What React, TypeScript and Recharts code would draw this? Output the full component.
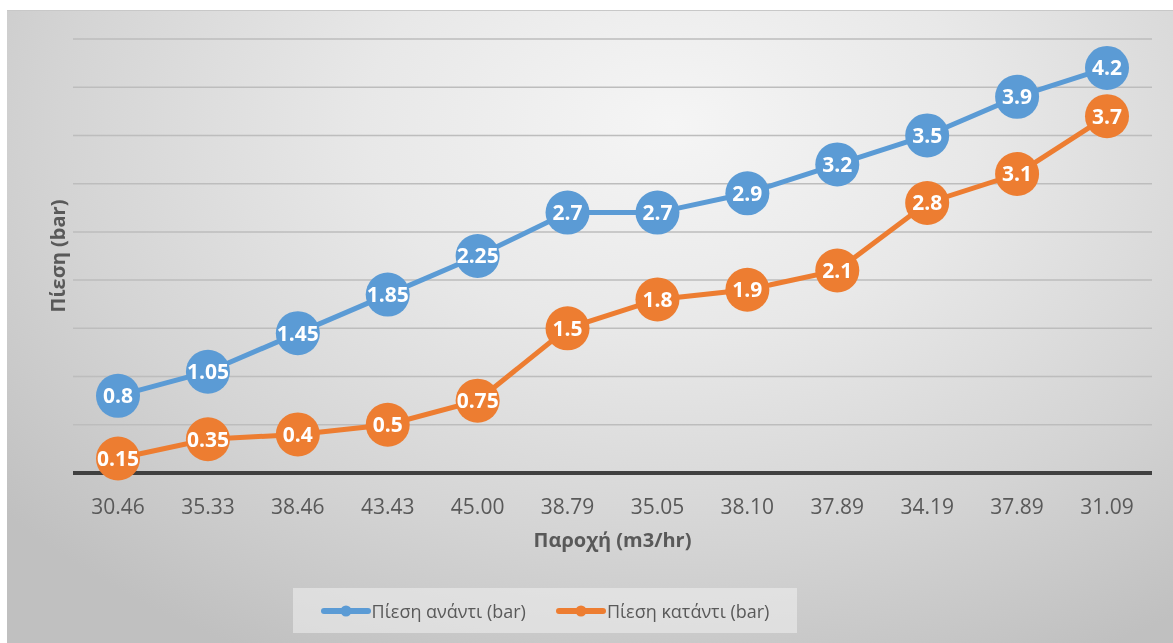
import React from 'react';
import { LineChart, Line, XAxis, YAxis, CartesianGrid, LabelList, Legend } from 'recharts';

const categories = ['30.46', '35.33', '38.46', '43.43', '45.00', '38.79', '35.05', '38.10', '37.89', '34.19', '37.89', '31.09'];
const upstream = [0.8, 1.05, 1.45, 1.85, 2.25, 2.7, 2.7, 2.9, 3.2, 3.5, 3.9, 4.2];
const downstream = [0.15, 0.35, 0.4, 0.5, 0.75, 1.5, 1.8, 1.9, 2.1, 2.8, 3.1, 3.7];
const yTicks = [0, 0.5, 1, 1.5, 2, 2.5, 3, 3.5, 4, 4.5];

const seriesNames = ['Πίεση ανάντι (bar)', 'Πίεση κατάντι (bar)'];
const colors = ['#5B9BD5', '#ED7D31'];

const data = categories.map((c, i) => ({ idx: i, cat: c, up: upstream[i], down: downstream[i] }));

const FONT = '"Open Sans", "Noto Sans", sans-serif';

const W = 1166;
const H = 633;

const LegendContent = () => (
  <div
    style={{
      width: 504,
      height: 45,
      background: 'rgba(240,240,240,0.55)',
      display: 'flex',
      alignItems: 'center',
      justifyContent: 'center',
      fontFamily: FONT,
      fontSize: 18,
      color: '#595959',
      gap: 30,
    }}
  >
    {seriesNames.map((n, i) => (
      <div key={n} style={{ display: 'flex', alignItems: 'center' }}>
        <svg width={50} height={14} style={{ marginRight: 1 }}>
          <line x1={3} y1={7} x2={47} y2={7} stroke={colors[i]} strokeWidth={6} strokeLinecap="round" />
          <circle cx={25} cy={7} r={5.5} fill={colors[i]} />
        </svg>
        <span>{n}</span>
      </div>
    ))}
  </div>
);

const YLabel = (props: any) => {
  const vb = props.viewBox || {};
  const cx = 50;
  const cy = vb.y + vb.height / 2;
  return (
    <text
      x={cx}
      y={cy}
      transform={`rotate(-90, ${cx}, ${cy})`}
      textAnchor="middle"
      dominantBaseline="central"
      fontFamily={FONT}
      fontSize={20}
      fontWeight={700}
      fill="#595959"
    >
      Πίεση (bar)
    </text>
  );
};

const NoTick = () => <g />;

export default function App() {
  return (
    <div
      style={{
        position: 'fixed',
        left: 7,
        top: 10,
        width: W,
        height: H,
        background:
          'radial-gradient(ellipse 75% 95% at 57% 18%, #f5f5f5 0%, #e8e8e8 35%, #d4d4d4 70%, #c0c0c0 100%)',
        borderTop: '1px solid #c8c8c8',
        boxSizing: 'border-box',
      }}
    >
      <LineChart
        width={W}
        height={H - 1}
        data={data}
        margin={{ top: 28, right: 21, left: 0, bottom: 10 }}
        style={{ fontFamily: FONT }}
      >
        <CartesianGrid horizontal vertical={false} stroke="#bdbdbd" strokeWidth={1.5} />
        <XAxis
          dataKey="idx"
          type="category"
          tickFormatter={(v: number) => categories[v]}
          axisLine={{ stroke: '#404040', strokeWidth: 4 }}
          tickLine={false}
          tick={{ fill: '#595959', fontSize: 21, fontFamily: FONT }}
          tickMargin={20}
          height={115}
          interval={0}
          padding={{ left: 45, right: 45 }}
          label={{
            value: 'Παροχή (m3/hr)',
            position: 'insideTop',
            offset: 60,
            fill: '#595959',
            fontSize: 20,
            fontWeight: 700,
            fontFamily: FONT,
          }}
        />
        <YAxis
          domain={[0, 4.5]}
          ticks={yTicks}
          width={66}
          tick={NoTick}
          axisLine={false}
          tickLine={false}
          label={YLabel}
        />
        <Legend
          verticalAlign="bottom"
          content={LegendContent}
          wrapperStyle={{ left: 286, width: 504, height: 45 }}
        />
        <Line
          dataKey="up"
          name={seriesNames[0]}
          stroke={colors[0]}
          strokeWidth={5}
          dot={{ r: 22, fill: colors[0], stroke: colors[0], strokeWidth: 0 }}
          activeDot={false}
          isAnimationActive={false}
        >
          <LabelList dataKey="up" position="center" fill="#ffffff" fontSize={21} fontWeight={700} fontFamily={FONT} />
        </Line>
        <Line
          dataKey="down"
          name={seriesNames[1]}
          stroke={colors[1]}
          strokeWidth={5}
          dot={{ r: 22, fill: colors[1], stroke: colors[1], strokeWidth: 0 }}
          activeDot={false}
          isAnimationActive={false}
        >
          <LabelList dataKey="down" position="center" fill="#ffffff" fontSize={21} fontWeight={700} fontFamily={FONT} />
        </Line>
      </LineChart>
    </div>
  );
}
